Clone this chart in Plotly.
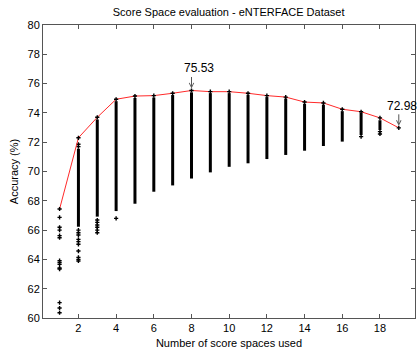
import plotly.graph_objects as go

# number of score spaces used
n_spaces = list(range(1, 20))
# best accuracy per number of score spaces (red curve)
best_acc = [67.44, 72.30, 73.70, 74.93, 75.15, 75.18, 75.34, 75.53, 75.45, 75.45,
            75.34, 75.18, 75.08, 74.74, 74.68, 74.25, 74.08, 73.66, 72.98]
# dense band of accuracies (where dots overlap into a solid column)
dense_x = [2, 3, 4, 5, 6, 7, 8, 9, 10, 11, 12, 13, 14, 15, 16, 17, 18]
dense_top = [71.55, 73.55, 74.80, 75.02, 75.05, 75.22, 75.40, 75.35, 75.35, 75.24, 75.08,
             74.98, 74.62, 74.56, 74.12, 74.00, 73.50]
dense_bottom = [66.23, 66.92, 67.30, 67.80, 68.62, 69.05, 69.52, 69.94, 70.32, 70.56,
                70.85, 71.13, 71.42, 71.74, 72.04, 72.49, 72.83]
# isolated accuracies outside the dense band
sparse_x = ([1] * 13 + [2] * 12 + [3] * 6 + [4] + [17] * 1 + [18] * 2)
sparse_acc = ([66.87, 66.19, 66.00, 65.62, 65.48, 63.91, 63.78, 63.66, 63.41, 63.34, 61.05, 60.68, 60.36]
              + [71.86, 71.70, 66.00, 65.82, 65.67, 65.37, 65.21, 65.03, 64.57, 64.14, 64.00, 63.89]
              + [66.69, 66.53, 66.35, 66.19, 66.00, 65.82]
              + [66.80]
              + [72.38]
              + [72.72, 72.56])

x_ticks = list(range(2, 20, 2))
y_ticks = list(range(60, 81, 2))

FONT = "Liberation Sans, Arial, sans-serif"

fig = go.Figure()

# dense columns as thick vertical segments
col_x, col_y = [], []
for x, lo, hi in zip(dense_x, dense_bottom, dense_top):
    col_x += [x, x, None]
    col_y += [lo, hi, None]
fig.add_trace(go.Scatter(x=col_x, y=col_y, mode="lines",
                         line=dict(color="black", width=3), hoverinfo="skip",
                         showlegend=False))

# sparse points
fig.add_trace(go.Scatter(x=sparse_x, y=sparse_acc, mode="markers",
                         marker=dict(symbol="cross", size=3.5, color="black"),
                         showlegend=False))

# best accuracy curve
fig.add_trace(go.Scatter(x=n_spaces, y=best_acc, mode="lines",
                         line=dict(color="#ff2a2a", width=1), showlegend=False))
fig.add_trace(go.Scatter(x=n_spaces, y=best_acc, mode="markers",
                         marker=dict(symbol="cross", size=3.5, color="black"),
                         showlegend=False))

# annotations
best_i = best_acc.index(max(best_acc))
for xi, yi, xs in [(n_spaces[best_i], best_acc[best_i], 7), (n_spaces[-1], best_acc[-1], 3)]:
    fig.add_annotation(x=xi, y=yi, text="", showarrow=True, ax=0, ay=-15,
                       axref="pixel", ayref="pixel", standoff=2,
                       arrowhead=5, arrowsize=0.9, arrowwidth=1, arrowcolor="#555555")
    fig.add_annotation(x=xi, y=yi, text=f"{yi:.2f}", showarrow=False,
                       xshift=xs, yshift=22, font=dict(family=FONT, size=12, color="black"))

axis_common = dict(showline=True, linecolor="#555555", linewidth=1, mirror="ticks",
                   ticks="inside", ticklen=4, tickcolor="#555555", showgrid=False,
                   zeroline=False, tickfont=dict(family=FONT, size=11, color="black"))

fig.update_layout(
    width=418, height=352,
    margin=dict(l=43, r=3, t=25, b=34),
    paper_bgcolor="white", plot_bgcolor="white",
    title=dict(text="Score Space evaluation - eNTERFACE Dataset", x=0.547, xanchor="center",
               y=1 - 12.5 / 352, yanchor="middle", yref="container",
               font=dict(family=FONT, size=11, color="black")),
    xaxis=dict(range=[0.12, 19.86], tickvals=x_ticks,
               title=dict(text="Number of score spaces used", standoff=6,
                          font=dict(family=FONT, size=11, color="black")),
               **axis_common),
    yaxis=dict(range=[60, 80], tickvals=y_ticks,
               title=dict(text="Accuracy (%)", standoff=6,
                          font=dict(family=FONT, size=11, color="black")),
               **axis_common),
)

fig.write_html("out.html", config={"displayModeBar": False},
               post_script="document.body.style.margin='0';document.body.style.overflow='hidden';")
